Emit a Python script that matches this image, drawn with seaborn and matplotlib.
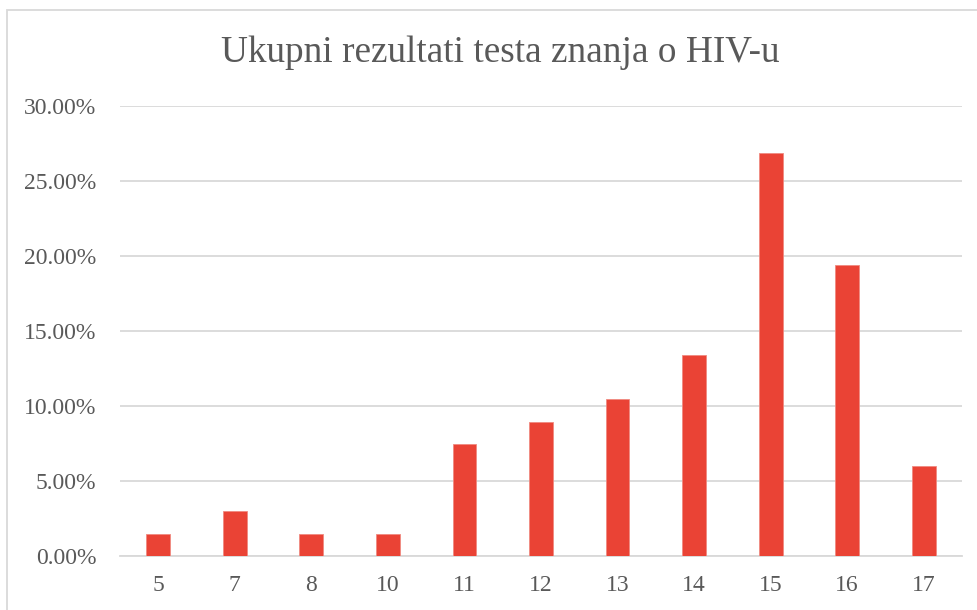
import matplotlib
matplotlib.use("Agg")
import matplotlib.pyplot as plt
import seaborn as sns
import pandas as pd
from matplotlib.patches import Rectangle
from matplotlib.ticker import FuncFormatter, MultipleLocator

categories = ["5", "7", "8", "10", "11", "12", "13", "14", "15", "16", "17"]
values = [1.49, 2.99, 1.49, 1.49, 7.46, 8.96, 10.45, 13.43, 26.87, 19.40, 5.97]
title = "Ukupni rezultati testa znanja o HIV-u"

df = pd.DataFrame({"score": categories, "pct": values})

sns.set_style("white")
plt.rcParams["font.family"] = ["Liberation Serif", "DejaVu Serif"]

fig = plt.figure(figsize=(9.78, 6.1), dpi=100)
ax = fig.add_axes([120/978, 1 - 556/610, (962-120)/978, (556-106)/610])

sns.barplot(data=df, x="score", y="pct", order=categories, color="#EA4335",
            width=0.31, ax=ax, saturation=1, edgecolor="#F08A80", linewidth=0.6, zorder=3)

ax.set_ylim(0, 30)
ax.set_xlim(-0.5, len(categories) - 0.5)
ax.yaxis.set_major_locator(MultipleLocator(5))
ax.yaxis.set_major_formatter(FuncFormatter(lambda v, p: f"{v:.2f}%"))
ax.grid(axis="y", color="#D9D9D9", linewidth=1.3, zorder=0)
ax.set_axisbelow(True)
for s in ["top", "right", "left"]:
    ax.spines[s].set_visible(False)
ax.spines["bottom"].set_color("#D9D9D9")
ax.spines["bottom"].set_linewidth(1.3)
ax.set_xlabel("")
ax.set_ylabel("")
ax.tick_params(axis="y", length=0, pad=17, labelsize=17, labelcolor="#595959")
ax.tick_params(axis="x", length=0, pad=14, labelsize=17, labelcolor="#595959")

fig.text(500/978, 1 - 53/610, title, ha="center", va="center",
         fontsize=26.8, color="#595959")

fig.patches.append(Rectangle((7/978, -0.05), 1.2, 1 - 10/610 + 0.05,
                             transform=fig.transFigure, fill=False,
                             edgecolor="#D9D9D9", linewidth=1.3))

fig.savefig("out.png", dpi=100)
